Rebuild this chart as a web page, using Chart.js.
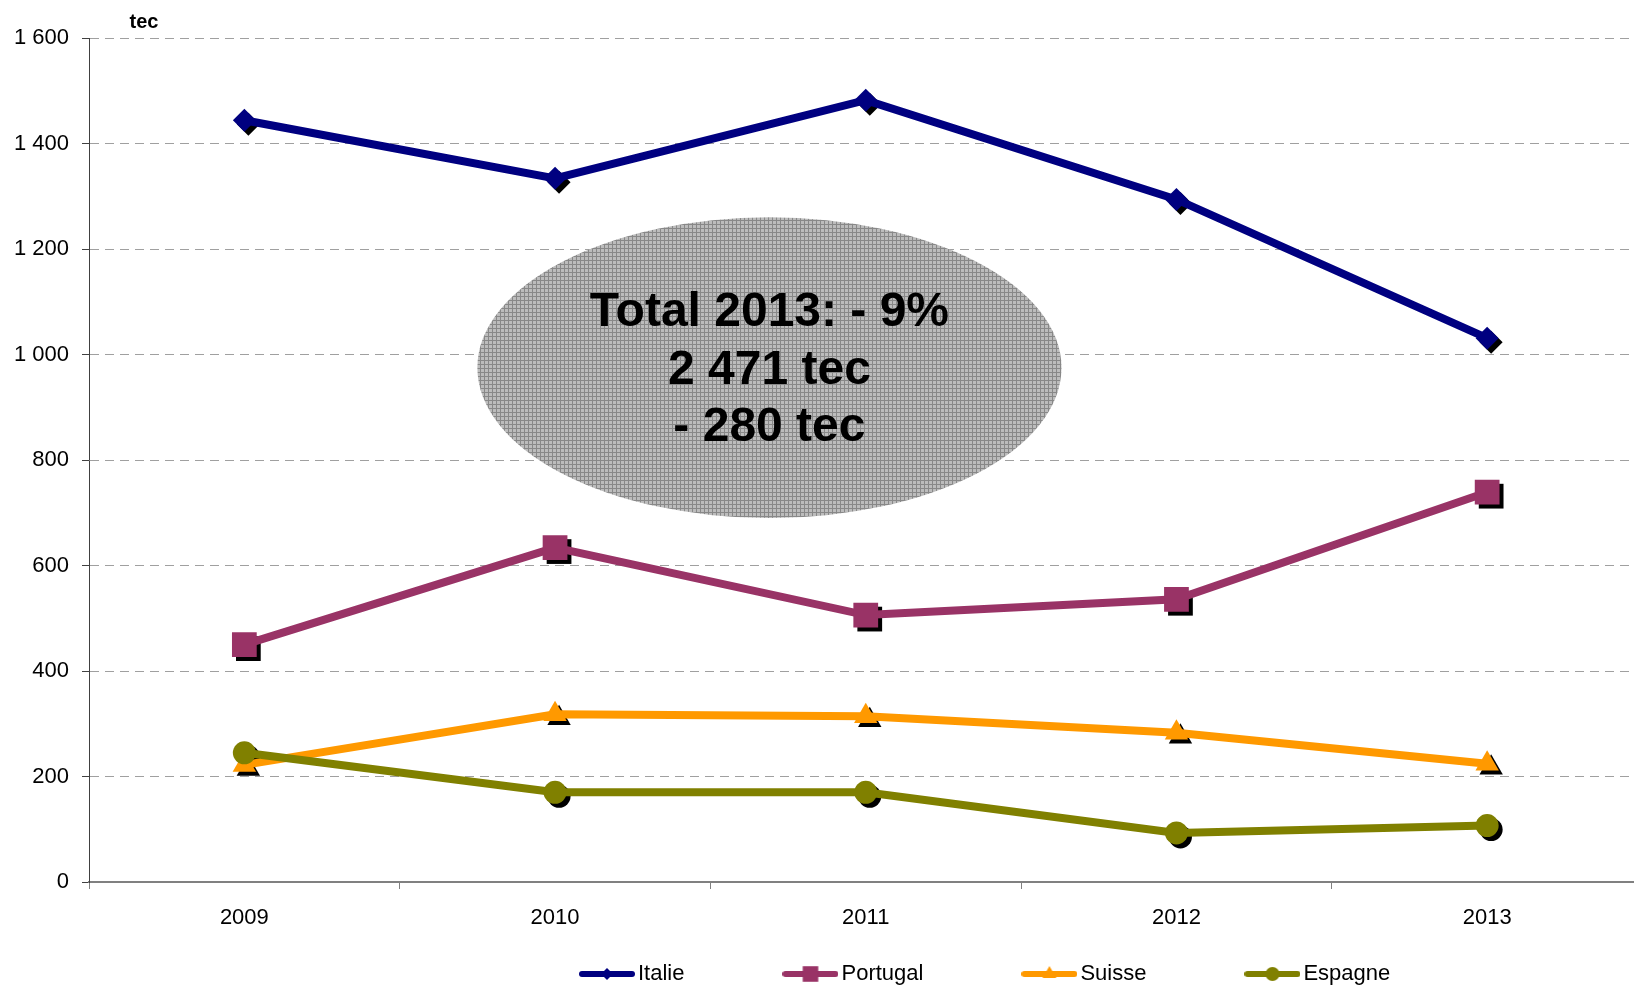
<!DOCTYPE html>
<html>
<head>
<meta charset="utf-8">
<title>Italie, Portugal, Suisse, Espagne (tec)</title>
<script src="https://cdn.jsdelivr.net/npm/chart.js@4/dist/chart.umd.min.js"></script>
<style>
  html, body { margin: 0; padding: 0; background: #fff; overflow: hidden; }
  canvas { display: block; }
</style>
</head>
<body>
<canvas id="tecChart" width="1660" height="987"></canvas>
<script>
// Années et volumes (tec)
const years = ['2009', '2010', '2011', '2012', '2013'];
const italie = [1444, 1334, 1482, 1294, 1031];
const portugal = [450, 634, 506, 536, 739];
const suisse = [222, 318, 314, 283, 224];
const espagne = [245, 170, 170, 93, 107];

// Axe des ordonnées
const yMin = 0;
const yMax = 1600;
const yStep = 200;
const unitLabel = 'tec';

// Bulle de commentaire
const noteLines = ['Total 2013: - 9%', '2 471 tec', '- 280 tec'];
const noteX = [0.75, 2.63];   // en unités de catégorie
const noteY = [690, 1260];    // en tec

Chart.defaults.font.family = "'Liberation Sans', Arial, sans-serif";
Chart.defaults.color = '#000';

// Format "1 600"
function formatTec(v) {
    return String(v).replace(/\B(?=(\d{3})+(?!\d))/g, ' ');
}

// Icône de légende : trait + marqueur
function makeIcon(color, style, radius) {
    const c = document.createElement('canvas');
    c.width = 56;
    c.height = 24;
    const g = c.getContext('2d');
    g.strokeStyle = color;
    g.lineWidth = 6;
    g.lineCap = 'round';
    g.beginPath();
    g.moveTo(3, 12);
    g.lineTo(53, 12);
    g.stroke();
    g.fillStyle = color;
    Chart.helpers.drawPoint(g, { pointStyle: style, radius: radius, rotation: 0, borderWidth: 0 }, 28, 12);
    return c;
}

// Trame grise de l'ellipse
function makePattern(ctx) {
    const c = document.createElement('canvas');
    c.width = 4;
    c.height = 4;
    const g = c.getContext('2d');
    g.fillStyle = '#bcbcbc';
    g.fillRect(0, 0, 4, 4);
    g.fillStyle = '#888888';
    g.fillRect(0, 0, 4, 1);
    g.fillRect(0, 0, 1, 4);
    return ctx.createPattern(c, 'repeat');
}

const series = [
    { label: 'Italie', data: italie, color: '#000080', style: 'rectRot', radius: 11.5, legendRadius: 6 },
    { label: 'Portugal', data: portugal, color: '#993366', style: 'rect', radius: 17.5, legendRadius: 11 },
    { label: 'Suisse', data: suisse, color: '#FF9900', style: 'triangle', radius: 13.5, legendRadius: 8 },
    { label: 'Espagne', data: espagne, color: '#808000', style: 'circle', radius: 11.5, legendRadius: 7 }
];

const legendIcons = series.map(s => makeIcon(s.color, s.style, s.legendRadius));

// Ellipse + texte, sous les courbes
const notePlugin = {
    id: 'notePlugin',
    beforeDatasetsDraw(chart) {
        const { ctx, scales: { x, y } } = chart;
        const left = x.getPixelForValue(noteX[0]);
        const right = x.getPixelForValue(noteX[1]);
        const top = y.getPixelForValue(noteY[1]);
        const bottom = y.getPixelForValue(noteY[0]);
        const cx = (left + right) / 2;
        const cy = (top + bottom) / 2;
        ctx.save();
        ctx.fillStyle = makePattern(ctx);
        ctx.beginPath();
        ctx.ellipse(cx, cy, (right - left) / 2, (bottom - top) / 2, 0, 0, Math.PI * 2);
        ctx.fill();
        ctx.fillStyle = '#000';
        ctx.font = "bold 48px 'Liberation Sans', Arial, sans-serif";
        ctx.textAlign = 'center';
        ctx.textBaseline = 'middle';
        noteLines.forEach((line, i) => {
            ctx.fillText(line, cx, cy + 3 + (i - 1) * 57.5);
        });
        ctx.restore();
    },
    afterDraw(chart) {
        const { ctx, chartArea } = chart;
        ctx.save();
        ctx.fillStyle = '#000';
        ctx.font = "bold 20px 'Liberation Sans', Arial, sans-serif";
        ctx.textAlign = 'center';
        ctx.textBaseline = 'alphabetic';
        ctx.fillText(unitLabel, chartArea.left + 55, chartArea.top - 10);
        ctx.restore();
    }
};

// Ombre noire décalée sous chaque marqueur
const shadowPlugin = {
    id: 'shadowPlugin',
    beforeDatasetsDraw(chart) {
        const ctx = chart.ctx;
        ctx.save();
        ctx.fillStyle = '#000';
        chart.data.datasets.forEach((ds, i) => {
            const meta = chart.getDatasetMeta(i);
            if (meta.hidden) return;
            meta.data.forEach(pt => {
                Chart.helpers.drawPoint(ctx, { pointStyle: ds.pointStyle, radius: ds.pointRadius, rotation: 0, borderWidth: 0 }, pt.x + 4, pt.y + 4);
            });
        });
        ctx.restore();
    }
};

// Place la légende comme sur l'original
const legendPlace = {
    id: 'legendPlace',
    afterLayout(chart) {
        const lg = chart.legend;
        lg.left = 481;
        lg.top = 857;
    }
};

new Chart(document.getElementById('tecChart'), {
    type: 'line',
    data: {
        labels: years,
        datasets: series.map((s, i) => ({
            label: s.label,
            data: s.data,
            borderColor: s.color,
            backgroundColor: s.color,
            borderWidth: 8,
            pointStyle: s.style,
            pointRadius: s.radius,
            pointHoverRadius: s.radius,
            pointBackgroundColor: s.color,
            pointBorderWidth: 0,
            tension: 0,
            fill: false,
            order: series.length - i
        }))
    },
    options: {
        responsive: false,
        animation: false,
        layout: {
            padding: { top: 38, right: 6, bottom: 0, left: 0 }
        },
        plugins: {
            tooltip: { enabled: false },
            legend: {
                display: true,
                position: 'bottom',
                align: 'start',
                maxHeight: 34,
                labels: {
                    usePointStyle: true,
                    pointStyleWidth: 40,
                    padding: 106,
                    color: '#000',
                    font: { size: 22 },
                    sort: (a, b) => a.datasetIndex - b.datasetIndex,
                    generateLabels: function(chart) {
                        const items = Chart.defaults.plugins.legend.labels.generateLabels(chart);
                        items.forEach(item => {
                            item.pointStyle = legendIcons[item.datasetIndex];
                        });
                        return items;
                    }
                }
            }
        },
        scales: {
            x: {
                type: 'category',
                offset: true,
                grid: {
                    offset: true,
                    drawOnChartArea: false,
                    tickLength: 7,
                    tickColor: '#808080',
                    tickWidth: 1
                },
                border: { color: '#808080', width: 2 },
                ticks: {
                    padding: 16,
                    color: '#000',
                    font: { size: 22 }
                },
                afterFit: function(scale) {
                    scale.height = 71;
                }
            },
            y: {
                min: yMin,
                max: yMax,
                grid: {
                    color: '#a0a0a0',
                    lineWidth: 1,
                    tickLength: 7,
                    tickColor: '#404040',
                    tickBorderDash: []
                },
                border: { color: '#404040', width: 1, dash: [9, 6] },
                ticks: {
                    stepSize: yStep,
                    padding: 13,
                    color: '#000',
                    font: { size: 22 },
                    callback: value => formatTec(value)
                },
                afterFit: function(scale) {
                    scale.width = 89;
                }
            }
        }
    },
    plugins: [notePlugin, shadowPlugin, legendPlace]
});
</script>
</body>
</html>
